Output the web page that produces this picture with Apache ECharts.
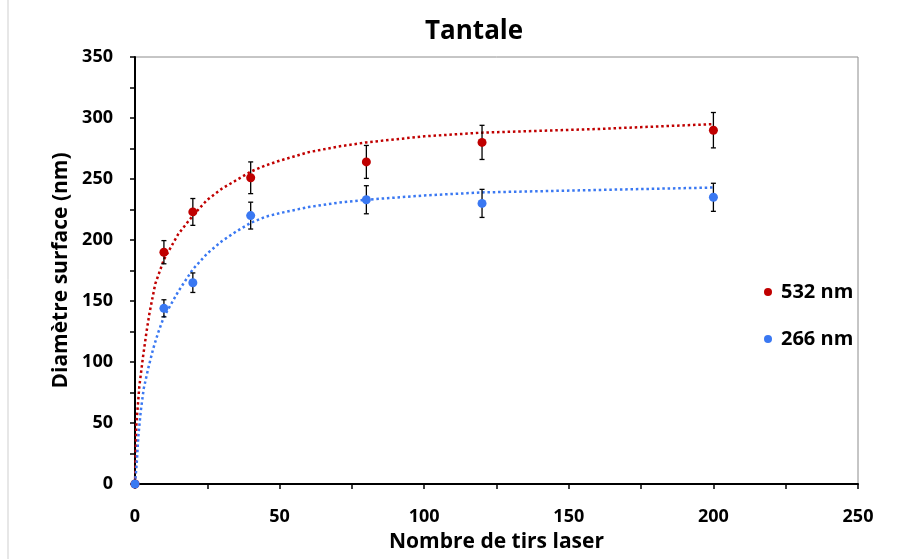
<!DOCTYPE html>
<html>
<head>
<meta charset="utf-8">
<script src="https://cdn.jsdelivr.net/npm/echarts@6/dist/echarts.min.js"></script>
<style>
  html, body { margin: 0; padding: 0; background: #fff; }
  #mychart { width: 917px; height: 559px; }
</style>
</head>
<body>
<div id="mychart"></div>
<script>
"use strict";
// measured points (nombre de tirs, diametre)
const shots = [0, 10, 20, 40, 80, 120, 200];
const red532 = [0, 190, 223, 251, 264, 280, 290];
const redErr = [0, 9.5, 11, 13, 13.5, 14, 14.5];
const blue266 = [0, 144, 165, 220, 233, 230, 235];
const blueErr = [0, 7, 8, 11, 11.5, 11.5, 11.5];

// trend curves
const redFitX = [0, 0.5, 1.5, 2.7, 4, 5, 7, 10, 15, 20, 25, 30, 35, 40, 45, 50, 60, 70, 80, 100, 120, 140, 160, 180, 200];
const redFitY = [0, 50, 80, 103, 125, 140, 164, 184, 205, 220, 233, 242, 249, 256, 261, 265, 272, 276.5, 280, 285, 288, 289.5, 291, 293, 295];
const blueFitX = [0, 0.6, 1.15, 2, 3, 4.6, 6.3, 8, 10, 15, 20, 25, 30, 35, 40, 45, 50, 60, 70, 80, 100, 120, 160, 200];
const blueFitY = [0, 17, 39, 60, 78, 95, 111, 124, 137, 158, 176, 189, 199, 207, 214, 219, 222, 227, 230.5, 233, 236.5, 239, 241, 243];

const FONT = 'Open Sans';
const RED = '#c00000';
const BLUE = '#3a78f2';

const container = document.getElementById('mychart');
const myChart = echarts.init(container);

function pairs(xs, ys) {
    return xs.map((x, i) => [x, ys[i]]);
}

function errData(ys, errs) {
    // skip the origin point, it has no bar
    return shots.map((x, i) => [x, ys[i], errs[i]]).filter(d => d[2] > 0);
}

function renderErr(params, api) {
    const x = api.value(0);
    const y = api.value(1);
    const e = api.value(2);
    const top = api.coord([x, y + e]);
    const bot = api.coord([x, y - e]);
    const cap = 2.5;
    const style = { stroke: '#000', lineWidth: 1.3 };
    return {
        type: 'group',
        children: [
            { type: 'line', shape: { x1: top[0], y1: top[1], x2: bot[0], y2: bot[1] }, style },
            { type: 'line', shape: { x1: top[0] - cap, y1: top[1], x2: top[0] + cap, y2: top[1] }, style },
            { type: 'line', shape: { x1: bot[0] - cap, y1: bot[1], x2: bot[0] + cap, y2: bot[1] }, style }
        ]
    };
}

const dotted = [2.5, 2.8];

const option = {
    animation: false,
    backgroundColor: '#fff',
    title: {
        text: 'Tantale',
        left: 420,
        top: 14,
        textStyle: { fontFamily: FONT, fontSize: 26, fontWeight: 'bold', color: '#000' }
    },
    graphic: [
        { type: 'line', shape: { x1: 8, y1: 0, x2: 8, y2: 559 }, style: { stroke: '#cfcfcf', lineWidth: 1 } }
    ],
    legend: {
        data: ['532 nm', '266 nm'],
        orient: 'vertical',
        left: 759,
        top: 277,
        itemGap: 27,
        itemWidth: 16,
        itemHeight: 8,
        icon: 'circle',
        textStyle: { fontFamily: FONT, fontSize: 20, lineHeight: 20, fontWeight: 'bold', color: '#000' }
    },
    grid: {
        left: 135,
        right: 59,
        top: 57,
        bottom: 75,
        show: true,
        borderColor: '#8c8c8c',
        borderWidth: 1
    },
    xAxis: {
        type: 'value',
        min: 0,
        max: 250,
        interval: 50,
        name: 'Nombre de tirs laser',
        nameLocation: 'middle',
        nameGap: 48,
        nameTextStyle: { fontFamily: FONT, fontSize: 21, fontWeight: 'bold', color: '#000' },
        axisLine: { show: true, onZero: false, lineStyle: { color: '#000', width: 2 } },
        axisTick: { show: true, inside: false, length: 5, lineStyle: { color: '#000', width: 1.5 } },
        minorTick: { show: true, splitNumber: 2, length: 5, lineStyle: { color: '#000', width: 1.5 } },
        splitLine: { show: false },
        axisLabel: { margin: 24, fontFamily: FONT, fontSize: 18, fontWeight: 'bold', color: '#000' }
    },
    yAxis: {
        type: 'value',
        min: 0,
        max: 350,
        interval: 50,
        name: 'Diamètre surface (nm)',
        nameLocation: 'middle',
        nameGap: 63,
        nameTextStyle: { fontFamily: FONT, fontSize: 21, fontWeight: 'bold', color: '#000' },
        axisLine: { show: true, onZero: false, lineStyle: { color: '#000', width: 2 } },
        axisTick: { show: true, inside: false, length: 5, lineStyle: { color: '#000', width: 1.5 } },
        minorTick: { show: true, splitNumber: 2, length: 5, lineStyle: { color: '#000', width: 1.5 } },
        splitLine: { show: false },
        axisLabel: { margin: 22, fontFamily: FONT, fontSize: 18, fontWeight: 'bold', color: '#000' }
    },
    series: [
        {
            name: 'fit532',
            type: 'line',
            data: pairs(redFitX, redFitY),
            showSymbol: false,
            lineStyle: { color: RED, width: 2.5, type: dotted },
            z: 2,
            silent: true
        },
        {
            name: 'fit266',
            type: 'line',
            data: pairs(blueFitX, blueFitY),
            showSymbol: false,
            lineStyle: { color: BLUE, width: 2.5, type: dotted },
            z: 2,
            silent: true
        },
        {
            name: 'err532',
            type: 'custom',
            renderItem: renderErr,
            data: errData(red532, redErr),
            z: 3
        },
        {
            name: 'err266',
            type: 'custom',
            renderItem: renderErr,
            data: errData(blue266, blueErr),
            z: 3
        },
        {
            name: '532 nm',
            type: 'scatter',
            data: pairs(shots, red532),
            symbolSize: 9,
            itemStyle: { color: RED, opacity: 1 },
            z: 4
        },
        {
            name: '266 nm',
            type: 'scatter',
            data: pairs(shots, blue266),
            symbolSize: 9,
            itemStyle: { color: BLUE, opacity: 1 },
            z: 5
        }
    ]
};
myChart.setOption(option);
</script>
</body>
</html>
